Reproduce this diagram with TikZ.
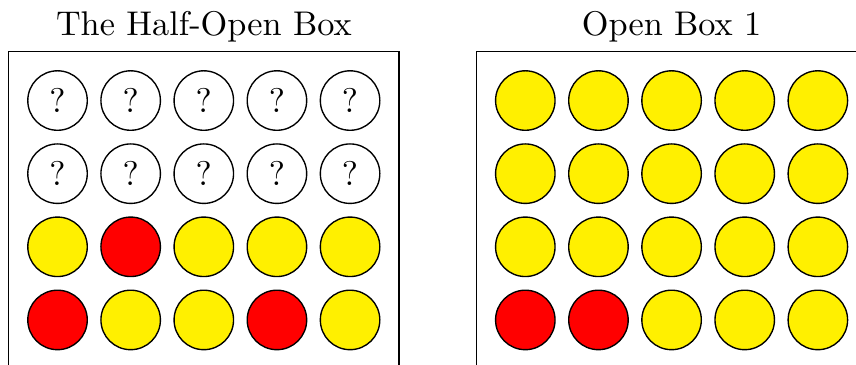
\documentclass[tikz,border=0pt]{standalone}
\usepackage{tikz}
\usepackage{xcolor}
\usetikzlibrary{positioning,fit}
\definecolor{chipyellow}{RGB}{255,240,0}
\tikzset{
    hidden/.style={circle, draw, fill=white, minimum size=6.1mm, inner sep=0pt},
    yellowchip/.style={circle, draw, fill=chipyellow, minimum size=6.1mm, inner sep=0pt},
    redchip/.style={circle, draw, fill=red, minimum size=6.1mm, inner sep=0pt},
    boxframe/.style={draw, inner sep=1.88mm}
}
\begin{document}
\begin{tikzpicture}[scale=1.0]
    \useasboundingbox (0,0) rectangle (8.778,-3.743);
    \begin{scope}[shift={(0.59,-1.031)}]
        \node[anchor=base] (htitle) at (1.5,0.662) {The Half-Open Box};
        \node[hidden] (h11) at (0,0) {?};
        \node[hidden] (h12) at (0.75,0) {?};
        \node[hidden] (h13) at (1.5,0) {?};
        \node[hidden] (h14) at (2.25,0) {?};
        \node[hidden] (h15) at (3,0) {?};
        \node[hidden] (h21) at (0,-0.75) {?};
        \node[hidden] (h22) at (0.75,-0.75) {?};
        \node[hidden] (h23) at (1.5,-0.75) {?};
        \node[hidden] (h24) at (2.25,-0.75) {?};
        \node[hidden] (h25) at (3,-0.75) {?};
        \node[yellowchip] (h31) at (0,-1.5) {};
        \node[redchip]    (h32) at (0.75,-1.5) {};
        \node[yellowchip] (h33) at (1.5,-1.5) {};
        \node[yellowchip] (h34) at (2.25,-1.5) {};
        \node[yellowchip] (h35) at (3,-1.5) {};
        \node[redchip]    (h41) at (0,-2.25) {};
        \node[yellowchip] (h42) at (0.75,-2.25) {};
        \node[yellowchip] (h43) at (1.5,-2.25) {};
        \node[redchip]    (h44) at (2.25,-2.25) {};
        \node[yellowchip] (h45) at (3,-2.25) {};
        \node[boxframe, fit=(h11)(h45)] (hframe) {};
    \end{scope}
    \begin{scope}[shift={(5.387,-1.031)}]
        \node[anchor=base] (otitle) at (1.5,0.662) {Open Box 1};
        \node[yellowchip] (o11) at (0,0) {};
        \node[yellowchip] (o12) at (0.75,0) {};
        \node[yellowchip] (o13) at (1.5,0) {};
        \node[yellowchip] (o14) at (2.25,0) {};
        \node[yellowchip] (o15) at (3,0) {};
        \node[yellowchip] (o21) at (0,-0.75) {};
        \node[yellowchip] (o22) at (0.75,-0.75) {};
        \node[yellowchip] (o23) at (1.5,-0.75) {};
        \node[yellowchip] (o24) at (2.25,-0.75) {};
        \node[yellowchip] (o25) at (3,-0.75) {};
        \node[yellowchip] (o31) at (0,-1.5) {};
        \node[yellowchip] (o32) at (0.75,-1.5) {};
        \node[yellowchip] (o33) at (1.5,-1.5) {};
        \node[yellowchip] (o34) at (2.25,-1.5) {};
        \node[yellowchip] (o35) at (3,-1.5) {};
        \node[redchip]    (o41) at (0,-2.25) {};
        \node[redchip]    (o42) at (0.75,-2.25) {};
        \node[yellowchip] (o43) at (1.5,-2.25) {};
        \node[yellowchip] (o44) at (2.25,-2.25) {};
        \node[yellowchip] (o45) at (3,-2.25) {};
        \node[boxframe, fit=(o11)(o45)] (oframe) {};
    \end{scope}
\end{tikzpicture}
\end{document}
